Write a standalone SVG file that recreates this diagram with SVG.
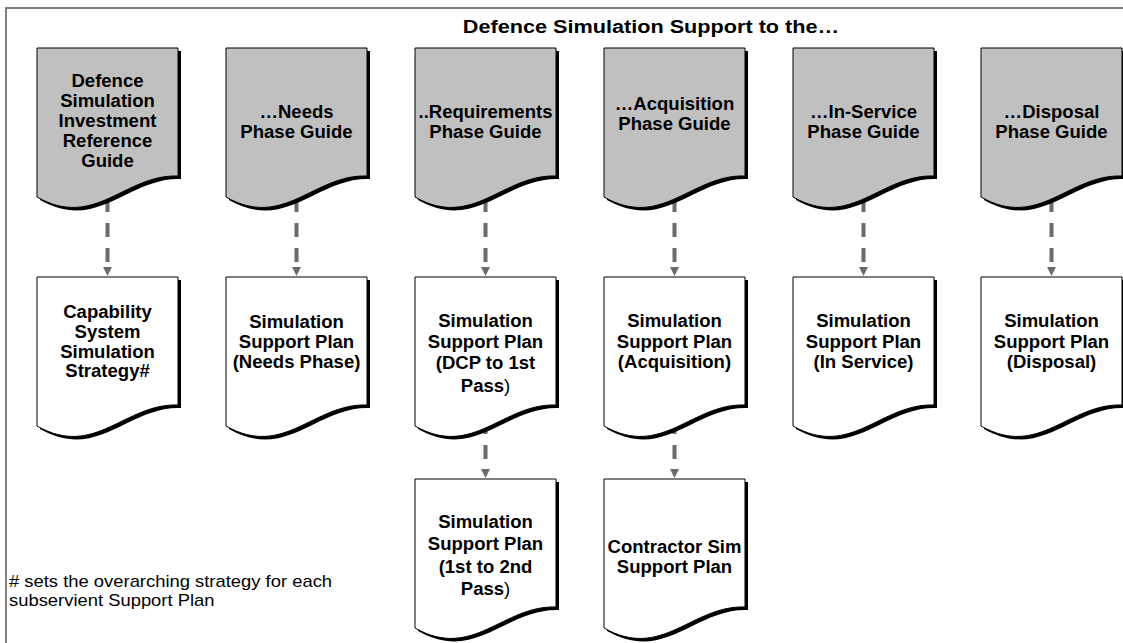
<svg xmlns="http://www.w3.org/2000/svg" width="1123" height="643" viewBox="0 0 1123 643">
  <style>
    .frame { fill: none; stroke: #808080; stroke-width: 2; }
    .shadow { fill: #000; }
    .guide { fill: #c0c0c0; stroke: #000; stroke-width: 1; }
    .plan { fill: #fff; stroke: #000; stroke-width: 1; }
    .lbl { font-family: "Liberation Sans", Arial, sans-serif; font-weight: bold; font-size: 17.5px; text-anchor: middle; fill: #000; }
    .thin { font-weight: normal; }
    .title { font-family: "Liberation Sans", Arial, sans-serif; font-weight: bold; font-size: 19px; text-anchor: middle; fill: #000; }
    .note { font-family: "Liberation Sans", Arial, sans-serif; font-size: 16px; fill: #000; }
    .conn { fill: none; stroke: #6b6b6b; stroke-width: 4; stroke-dasharray: 14 11; }
  </style>
  <defs>
    <!-- document outline: flat top, wavy bottom -->
    <path id="doc" d="M0,0 H141 V128 C88,126 58,182 0,149 Z"/>
    <marker id="arrow" viewBox="0 0 10 10" refX="0" refY="5" markerUnits="userSpaceOnUse" markerWidth="10" markerHeight="9" orient="auto">
      <path d="M0,0 L10,5 L0,10 Z" fill="#6b6b6b"/>
    </marker>
  </defs>

  <rect width="1123" height="643" fill="#fff"/>
  <path class="frame" d="M6,643 V8 H1123"/>

  <g transform="translate(651 0) scale(1.14 1)">
    <text class="title" x="0" y="33">Defence Simulation Support to the…</text>
  </g>

  <!-- connectors -->
  <g id="connectors">
    <line class="conn" x1="107.5" y1="198" x2="107.5" y2="267" marker-end="url(#arrow)"/>
    <line class="conn" x1="296.5" y1="198" x2="296.5" y2="267" marker-end="url(#arrow)"/>
    <line class="conn" x1="485.5" y1="198" x2="485.5" y2="267" marker-end="url(#arrow)"/>
    <line class="conn" x1="674.5" y1="198" x2="674.5" y2="267" marker-end="url(#arrow)"/>
    <line class="conn" x1="863.5" y1="198" x2="863.5" y2="267" marker-end="url(#arrow)"/>
    <line class="conn" x1="1051.5" y1="198" x2="1051.5" y2="267" marker-end="url(#arrow)"/>
    <line class="conn" x1="485.5" y1="420" x2="485.5" y2="469" marker-end="url(#arrow)"/>
    <line class="conn" x1="674.5" y1="420" x2="674.5" y2="469" marker-end="url(#arrow)"/>
  </g>

  <!-- phase guides -->
  <g id="guide-dsirg" transform="translate(37 48)">
    <use href="#doc" class="shadow" x="3" y="3"/>
    <use href="#doc" class="guide"/>
    <g transform="translate(70.5 0) scale(1.06 1)">
      <text class="lbl" y="39">Defence</text>
      <text class="lbl" y="59">Simulation</text>
      <text class="lbl" y="79">Investment</text>
      <text class="lbl" y="99">Reference</text>
      <text class="lbl" y="119">Guide</text>
    </g>
  </g>
  <g id="guide-needs" transform="translate(226 48)">
    <use href="#doc" class="shadow" x="3" y="3"/>
    <use href="#doc" class="guide"/>
    <g transform="translate(70.5 0) scale(1.06 1)">
      <text class="lbl" y="70">…Needs</text>
      <text class="lbl" y="90">Phase Guide</text>
    </g>
  </g>
  <g id="guide-requirements" transform="translate(415 48)">
    <use href="#doc" class="shadow" x="3" y="3"/>
    <use href="#doc" class="guide"/>
    <g transform="translate(70.5 0) scale(1.06 1)">
      <text class="lbl" y="70">..Requirements</text>
      <text class="lbl" y="90">Phase Guide</text>
    </g>
  </g>
  <g id="guide-acquisition" transform="translate(604 48)">
    <use href="#doc" class="shadow" x="3" y="3"/>
    <use href="#doc" class="guide"/>
    <g transform="translate(70.5 0) scale(1.06 1)">
      <text class="lbl" y="62">…Acquisition</text>
      <text class="lbl" y="82">Phase Guide</text>
    </g>
  </g>
  <g id="guide-inservice" transform="translate(793 48)">
    <use href="#doc" class="shadow" x="3" y="3"/>
    <use href="#doc" class="guide"/>
    <g transform="translate(70.5 0) scale(1.06 1)">
      <text class="lbl" y="70">…In-Service</text>
      <text class="lbl" y="90">Phase Guide</text>
    </g>
  </g>
  <g id="guide-disposal" transform="translate(981 48)">
    <use href="#doc" class="shadow" x="3" y="3"/>
    <use href="#doc" class="guide"/>
    <g transform="translate(70.5 0) scale(1.06 1)">
      <text class="lbl" y="70">…Disposal</text>
      <text class="lbl" y="90">Phase Guide</text>
    </g>
  </g>

  <!-- support plans -->
  <g id="plan-strategy" transform="translate(37 277)">
    <use href="#doc" class="shadow" x="3" y="3"/>
    <use href="#doc" class="plan"/>
    <g transform="translate(70.5 0) scale(1.06 1)">
      <text class="lbl" y="41">Capability</text>
      <text class="lbl" y="61">System</text>
      <text class="lbl" y="81">Simulation</text>
      <text class="lbl" y="100">Strategy#</text>
    </g>
  </g>
  <g id="plan-needs" transform="translate(226 277)">
    <use href="#doc" class="shadow" x="3" y="3"/>
    <use href="#doc" class="plan"/>
    <g transform="translate(70.5 0) scale(1.06 1)">
      <text class="lbl" y="51">Simulation</text>
      <text class="lbl" y="71">Support Plan</text>
      <text class="lbl" y="91">(Needs Phase)</text>
    </g>
  </g>
  <g id="plan-dcp" transform="translate(415 277)">
    <use href="#doc" class="shadow" x="3" y="3"/>
    <use href="#doc" class="plan"/>
    <g transform="translate(70.5 0) scale(1.06 1)">
      <text class="lbl" y="50">Simulation</text>
      <text class="lbl" y="71">Support Plan</text>
      <text class="lbl" y="92">(DCP to 1st</text>
      <text class="lbl" y="115">Pass<tspan class="thin">)</tspan></text>
    </g>
  </g>
  <g id="plan-acquisition" transform="translate(604 277)">
    <use href="#doc" class="shadow" x="3" y="3"/>
    <use href="#doc" class="plan"/>
    <g transform="translate(70.5 0) scale(1.06 1)">
      <text class="lbl" y="50">Simulation</text>
      <text class="lbl" y="71">Support Plan</text>
      <text class="lbl" y="91">(Acquisition)</text>
    </g>
  </g>
  <g id="plan-inservice" transform="translate(793 277)">
    <use href="#doc" class="shadow" x="3" y="3"/>
    <use href="#doc" class="plan"/>
    <g transform="translate(70.5 0) scale(1.06 1)">
      <text class="lbl" y="50">Simulation</text>
      <text class="lbl" y="71">Support Plan</text>
      <text class="lbl" y="91">(In Service)</text>
    </g>
  </g>
  <g id="plan-disposal" transform="translate(981 277)">
    <use href="#doc" class="shadow" x="3" y="3"/>
    <use href="#doc" class="plan"/>
    <g transform="translate(70.5 0) scale(1.06 1)">
      <text class="lbl" y="50">Simulation</text>
      <text class="lbl" y="71">Support Plan</text>
      <text class="lbl" y="91">(Disposal)</text>
    </g>
  </g>
  <g id="plan-pass2" transform="translate(415 479)">
    <use href="#doc" class="shadow" x="3" y="3"/>
    <use href="#doc" class="plan"/>
    <g transform="translate(70.5 0) scale(1.06 1)">
      <text class="lbl" y="49">Simulation</text>
      <text class="lbl" y="71">Support Plan</text>
      <text class="lbl" y="94">(1st to 2nd</text>
      <text class="lbl" y="116">Pass<tspan class="thin">)</tspan></text>
    </g>
  </g>
  <g id="plan-contractor" transform="translate(604 479)">
    <use href="#doc" class="shadow" x="3" y="3"/>
    <use href="#doc" class="plan"/>
    <g transform="translate(70.5 0) scale(1.06 1)">
      <text class="lbl" y="74">Contractor Sim</text>
      <text class="lbl" y="94">Support Plan</text>
    </g>
  </g>

  <!-- footnote -->
  <g transform="translate(9 0) scale(1.15 1)">
    <text class="note" x="0" y="587">
      <tspan x="0"># sets the overarching strategy for each</tspan>
      <tspan x="0" y="606">subservient Support Plan</tspan>
    </text>
  </g>
</svg>
